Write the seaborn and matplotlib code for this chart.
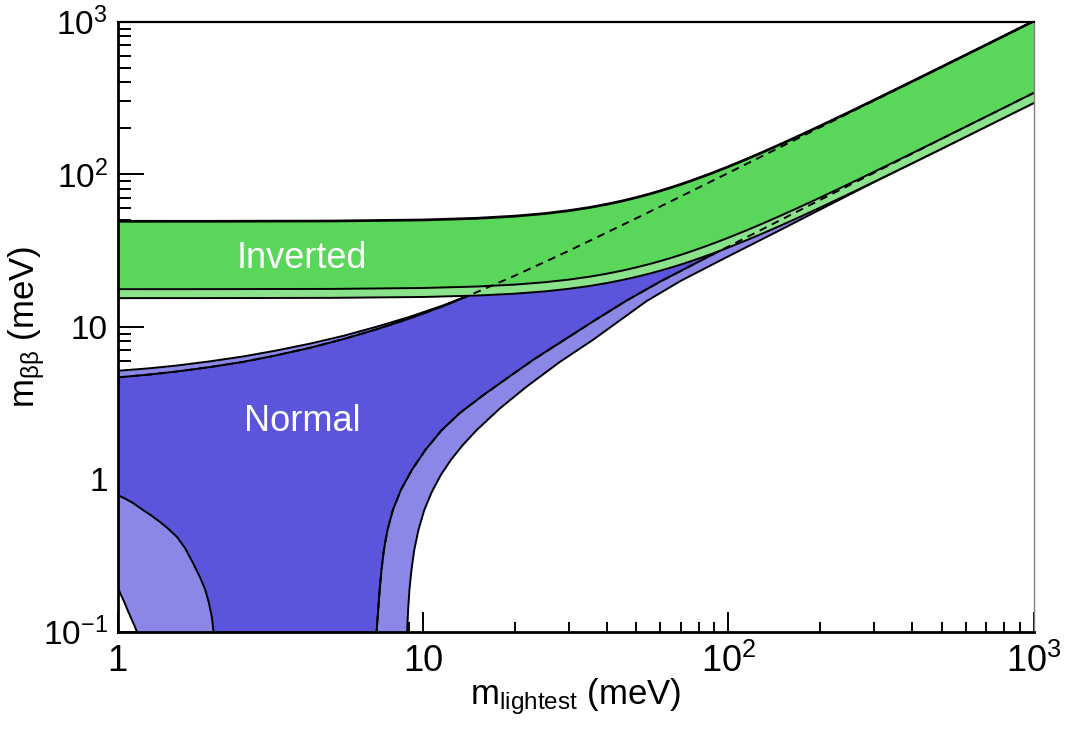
import matplotlib
matplotlib.use("Agg")
import matplotlib.pyplot as plt
import seaborn as sns
from matplotlib.ticker import FixedLocator, FixedFormatter, NullFormatter

# ---------------- data (meV) ----------------
# Inverted ordering: shared m_lightest grid
m_io = [1, 2, 5, 10, 15, 20, 25, 30, 35, 40, 45, 50, 55, 60, 65, 70, 75, 85, 90, 100,
        115, 130, 150, 170, 200, 250, 300, 400, 500, 700, 1000]
io_dark_hi = [48.81, 48.84, 49.06, 49.81, 51.05, 52.74, 54.83, 57.28, 60.05, 63.10,
              66.38, 69.87, 73.53, 77.34, 81.28, 85.33, 89.48, 98.01, 102.38, 111.27,
              124.93, 138.86, 157.74, 176.87, 205.87, 254.7, 303.94, 402.97, 502.38, 701.70,
              1001.19]
io_light_hi = [49.4, 49.4, 49.6, 50.4, 51.7, 53.4, 55.49, 58.0, 60.77, 63.9,
               67.18, 70.7, 74.41, 78.3, 82.26, 86.4, 90.55, 99.2, 103.61, 112.6,
               126.43, 140.5, 159.63, 179.0, 208.3, 257.76, 307.6, 407.81, 508.4, 710.1,
               1013.2]
io_dark_lo = [17.62, 17.63, 17.69, 17.94, 18.34, 18.88, 19.56, 20.35, 21.25, 22.25,
              23.33, 24.48, 25.69, 26.95, 28.26, 29.61, 30.99, 33.84, 35.31, 38.29,
              42.88, 47.58, 53.95, 60.42, 70.24, 86.80, 103.5, 137.14, 170.9, 238.7,
              340.5]
io_light_lo = [15.39, 15.40, 15.46, 15.66, 16.00, 16.46, 17.03, 17.71, 18.47, 19.32,
               20.24, 21.21, 22.24, 23.32, 24.43, 25.58, 26.77, 29.20, 30.45, 33.01,
               36.94, 40.96, 46.43, 51.97, 60.39, 74.60, 88.94, 117.81, 146.8, 205.0,
               292.4]

# Normal ordering: upper edges
m_no_hi = [1, 1.25, 1.56, 2.0, 2.58, 3.3, 4.27, 5.5, 7.05, 9.0, 11.65, 13.9, 17, 20, 25,
           30, 38.9, 51.3, 70, 100, 140, 200, 300, 500, 1000]
no_dark_hi = [4.65, 4.84, 5.08, 5.43, 5.88, 6.48, 7.27, 8.30, 9.61, 11.28, 13.63, 15.76,
              18.75, 21.6, 26.5, 31.4, 40.3, 52.7, 71.5, 101.8, 142.2, 203.0, 303.5,
              504.0, 1004.0]
no_light_hi = [5.14, 5.32, 5.56, 5.92, 6.38, 6.97, 7.74, 8.72, 9.99, 11.56, 13.79, 15.85,
               18.81, 21.64, 26.55, 31.45, 40.35, 52.75, 71.55, 101.85, 142.25, 203.05,
               303.55, 504.05, 1004.05]

# Normal ordering: lower edge, small-m lobe
m_no_dark_lobe = [1.0, 1.058, 1.124, 1.212, 1.297, 1.378, 1.463, 1.566, 1.663, 1.767,
                  1.862, 1.934, 1.993, 2.039, 2.062, 2.073, 2.08]
no_dark_lobe = [0.788, 0.747, 0.698, 0.628, 0.574, 0.524, 0.475, 0.418, 0.354, 0.282,
                0.228, 0.1905, 0.1542, 0.123, 0.100, 0.0818, 0.05]
m_no_light_lobe = [1.0, 1.027, 1.054, 1.082, 1.111, 1.141, 1.158, 1.171, 1.18]
no_light_lobe = [0.197, 0.174, 0.1553, 0.1367, 0.1212, 0.1073, 0.0995, 0.0882, 0.05]

# Normal ordering: lower edge, cancellation branch
m_no_dark_lo = [7.0, 7.02, 7.056, 7.141, 7.222, 7.321, 7.454, 7.659, 7.977, 8.472, 9.204,
                10.19, 11.54, 13.22, 15.72, 19.12, 23.08, 28.51, 36.28, 46.54, 60, 85,
                100, 150, 200, 313, 500, 1000]
no_dark_lo = [0.05, 0.07, 0.10, 0.1388, 0.1877, 0.2539, 0.3433, 0.4643, 0.6281, 0.8495,
              1.149, 1.554, 2.102, 2.717, 3.539, 4.680, 6.094, 7.998, 10.90, 14.85, 19.8,
              28.4, 33.5, 50.6, 67.8, 106.4, 170.5, 340.5]
m_no_light_lo = [8.83, 8.85, 8.883, 8.950, 9.038, 9.178, 9.373, 9.674, 10.11, 10.70, 11.45,
                 12.35, 13.52, 15.02, 17.87, 21.90, 28.08, 36.01, 44.14, 54.11, 70, 100,
                 150, 194, 300, 500, 1000]
no_light_lo = [0.05, 0.07, 0.10, 0.1388, 0.1877, 0.2539, 0.3433, 0.4643, 0.6281, 0.8245,
               1.065, 1.336, 1.676, 2.102, 2.908, 4.054, 5.868, 8.180, 10.98, 14.74, 20.0,
               28.9, 43.6, 56.8, 88.5, 146.5, 292.4]

x_ticks = [1, 10, 100, 1000]
x_ticklabels = ["1", "10", r"$10^{2}$", r"$10^{3}$"]
y_ticks = [0.1, 1, 10, 100, 1000]
y_ticklabels = [r"$10^{-1}$", "1", "10", r"$10^{2}$", r"$10^{3}$"]

C_NO_DARK = "#5a55da"
C_NO_LIGHT = "#8a87e6"
C_IO_DARK = "#5ad65a"
C_IO_LIGHT = "#8ae38a"

# ---------------- style ----------------
sns.set_style("white")
plt.rcParams["font.family"] = ["Liberation Sans", "DejaVu Sans"]
plt.rcParams["mathtext.fontset"] = "custom"
plt.rcParams["mathtext.rm"] = "Liberation Sans"
plt.rcParams["mathtext.it"] = "Liberation Sans"
plt.rcParams["mathtext.bf"] = "Liberation Sans"
for key in ("text.color", "axes.labelcolor", "xtick.color", "ytick.color"):
    plt.rcParams[key] = "black"

fig = plt.figure(figsize=(10.66, 7.32), dpi=100)
ax = fig.add_axes([117.5 / 1066, 1 - 631.7 / 732, 916 / 1066, 610 / 732])
ax.set_xscale("log")
ax.set_yscale("log")


def band(m_hi, hi, lower_pieces):
    """Polygon: upper edge left->right, then the lower pieces (already ordered right->left)."""
    xs = list(m_hi)
    ys = list(hi)
    for mm, vv in lower_pieces:
        xs += list(mm)
        ys += list(vv)
    return xs, ys


# Normal ordering, light (wider) band
xs, ys = band(m_no_hi, no_light_hi,
              [(m_no_light_lo[::-1], no_light_lo[::-1]),
               (m_no_light_lobe[::-1], no_light_lobe[::-1])])
ax.fill(xs, ys, color=C_NO_LIGHT, lw=0, zorder=1)
# Normal ordering, dark band
xs, ys = band(m_no_hi, no_dark_hi,
              [(m_no_dark_lo[::-1], no_dark_lo[::-1]),
               (m_no_dark_lobe[::-1], no_dark_lobe[::-1])])
ax.fill(xs, ys, color=C_NO_DARK, lw=0, zorder=2)

no_curves = [(m_no_hi, no_light_hi), (m_no_hi, no_dark_hi),
             (m_no_dark_lobe, no_dark_lobe), (m_no_light_lobe, no_light_lobe),
             (m_no_dark_lo, no_dark_lo), (m_no_light_lo, no_light_lo)]
for mm, vv in no_curves:
    sns.lineplot(x=mm, y=vv, ax=ax, color="black", lw=1.4, sort=False,
                 estimator=None, zorder=3)

# Inverted ordering bands on top
ax.fill_between(m_io, io_light_lo, io_light_hi, color=C_IO_LIGHT, lw=0, zorder=4)
ax.fill_between(m_io, io_dark_lo, io_dark_hi, color=C_IO_DARK, lw=0, zorder=5)
for vv in (io_light_hi, io_dark_hi, io_dark_lo, io_light_lo):
    sns.lineplot(x=m_io, y=vv, ax=ax, color="black", lw=1.4, sort=False,
                 estimator=None, zorder=6)

# Normal-ordering edges hidden under the inverted band, shown dashed
for mm, vv in [(m_no_hi, no_dark_hi), (m_no_dark_lo, no_dark_lo)]:
    sns.lineplot(x=mm, y=vv, ax=ax, color="black", lw=1.4, sort=False,
                 estimator=None, zorder=7, linestyle=(0, (4, 3)))

ax.text(0.2014, 0.6126, "Inverted", transform=ax.transAxes, color="white",
        fontsize=26, ha="center", va="center", zorder=8)
ax.text(0.2014, 0.3438, "Normal", transform=ax.transAxes, color="white",
        fontsize=26, ha="center", va="center", zorder=8)

ax.set_xlim(1, 1000)
ax.set_ylim(0.1, 1000)

ax.xaxis.set_major_locator(FixedLocator(x_ticks))
ax.xaxis.set_major_formatter(FixedFormatter(x_ticklabels))
ax.yaxis.set_major_locator(FixedLocator(y_ticks))
ax.yaxis.set_major_formatter(FixedFormatter(y_ticklabels))
x_minor = [k * 10 ** d for d in range(0, 3) for k in range(2, 10)]
y_minor = [k * 10 ** d for d in range(-1, 3) for k in range(2, 10)]
ax.xaxis.set_minor_locator(FixedLocator(x_minor))
ax.yaxis.set_minor_locator(FixedLocator(y_minor))
ax.xaxis.set_minor_formatter(NullFormatter())
ax.yaxis.set_minor_formatter(NullFormatter())

ax.tick_params(axis="y", which="major", direction="in", length=18.7, width=1.4,
               labelsize=24, pad=7, right=False, left=True)
ax.tick_params(axis="y", which="minor", direction="in", length=9.4, width=1.4,
               right=False, left=True)
ax.tick_params(axis="x", which="major", direction="in", length=14.4, width=1.4,
               labelsize=26, pad=9, top=False, bottom=True)
ax.tick_params(axis="x", which="minor", direction="in", length=7.2, width=1.4,
               top=False, bottom=True)

for side in ("left", "bottom"):
    ax.spines[side].set_linewidth(2.0)
    ax.spines[side].set_color("black")
ax.spines["top"].set_linewidth(1.6)
ax.spines["top"].set_color("black")
ax.spines["right"].set_linewidth(1.0)
ax.spines["right"].set_color("#808080")
for s in ax.spines.values():
    s.set_zorder(10)

ax.set_xlabel(r"$\mathregular{m_{lightest}}$ (meV)", fontsize=25, va="center")
ax.xaxis.set_label_coords(0.5, (631.7 - 697) / 610)
ax.set_ylabel(r"$\mathregular{m_{ββ}}$ (meV)", fontsize=25, va="center")
ax.yaxis.set_label_coords((27 - 117.5) / 916, 0.5)

fig.savefig("out.png", dpi=100)
